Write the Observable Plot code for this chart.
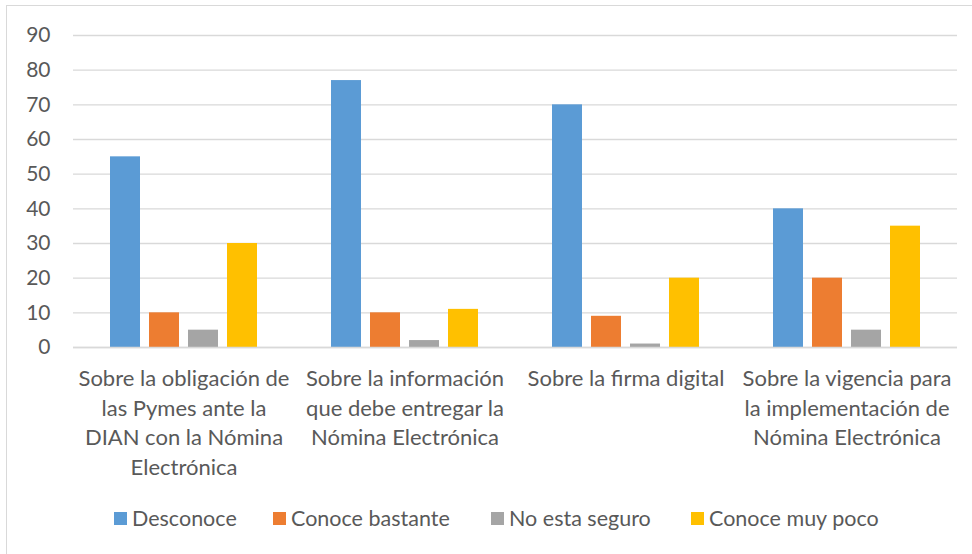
<!DOCTYPE html>
<html>
<head>
<meta charset="utf-8">
<script src="https://cdn.jsdelivr.net/npm/d3@7"></script>
<script src="https://cdn.jsdelivr.net/npm/@observablehq/plot@0.6"></script>
<style>
  html, body { margin: 0; padding: 0; background: #fff; }
  #wrap { position: relative; width: 972px; height: 554px; overflow: hidden; font-family: Lato, "Open Sans", sans-serif; }
  #frame { position: absolute; left: 6px; top: 5px; width: 980px; height: 560px; border-left: 1px solid #d9d9d9; border-top: 1px solid #d9d9d9; }
  #chart { position: absolute; left: 0; top: 0; }
  #legend { position: absolute; top: 505px; left: 0; width: 972px; height: 28px; font-size: 21.5px; color: #595959; }
  .item { position: absolute; top: 0; display: flex; align-items: center; white-space: nowrap; }
  .sw { width: 13px; height: 13px; margin-right: 5px; }
</style>
</head>
<body>
<div id="wrap">
  <div id="frame"></div>
  <div id="chart"></div>
  <div id="legend"></div>
</div>
<script>
const categories = [
  "Sobre la obligación de\nlas Pymes ante la\nDIAN con la Nómina\nElectrónica",
  "Sobre la información\nque debe entregar la\nNómina Electrónica",
  "Sobre la firma digital",
  "Sobre la vigencia para\nla implementación de\nNómina Electrónica"
];
const series = ["Desconoce", "Conoce bastante", "No esta seguro", "Conoce muy poco"];
const colors = ["#5B9BD5", "#ED7D31", "#A5A5A5", "#FFC000"];
const desconoce = [55, 77, 70, 40];
const conoceBastante = [10, 10, 9, 20];
const noEstaSeguro = [5, 2, 1, 5];
const conoceMuyPoco = [30, 11, 20, 35];
const yTicks = [0, 10, 20, 30, 40, 50, 60, 70, 80, 90];

const valuesBySeries = [desconoce, conoceBastante, noEstaSeguro, conoceMuyPoco];
const data = [];
categories.forEach((c, i) => {
  series.forEach((s, j) => data.push({category: c, series: s, value: valuesBySeries[j][i]}));
});

const font = 'Lato, "Open Sans", sans-serif';

const chart = Plot.plot({
  width: 972,
  height: 500,
  marginLeft: 71,
  marginRight: 14,
  marginTop: 35,
  marginBottom: 153,
  style: {fontFamily: font, fontSize: "21px", color: "#595959", background: "transparent"},
  fx: {domain: categories, padding: 0, label: null},
  x: {domain: series, paddingInner: 0.225, paddingOuter: 0.89, axis: null},
  y: {domain: [0, 90], label: null},
  color: {domain: series, range: colors},
  marks: [
    Plot.gridY(yTicks, {stroke: "#d9d9d9", strokeOpacity: 1, strokeWidth: 1.3}),
    Plot.axisY(yTicks, {tickSize: 0, tickPadding: 23, fontSize: 21, fill: "#595959", label: null}),
    Plot.axisFx({anchor: "bottom", tickSize: 0, tickPadding: 18, fontSize: 22, lineHeight: 1.34, fill: "#595959", label: null}),
    Plot.barY(data, {fx: "category", x: "series", y: "value", fill: "series"}),
    Plot.ruleY([0], {stroke: "#d9d9d9", strokeWidth: 1.6})
  ]
});
document.getElementById("chart").appendChild(chart);

const legend = document.getElementById("legend");
const lefts = [114, 273, 491, 691];
series.forEach((s, i) => {
  const it = document.createElement("div");
  it.className = "item";
  it.style.left = lefts[i] + "px";
  const sw = document.createElement("span");
  sw.className = "sw";
  sw.style.background = colors[i];
  const t = document.createElement("span");
  t.textContent = s;
  it.appendChild(sw);
  it.appendChild(t);
  legend.appendChild(it);
});
</script>
</body>
</html>
